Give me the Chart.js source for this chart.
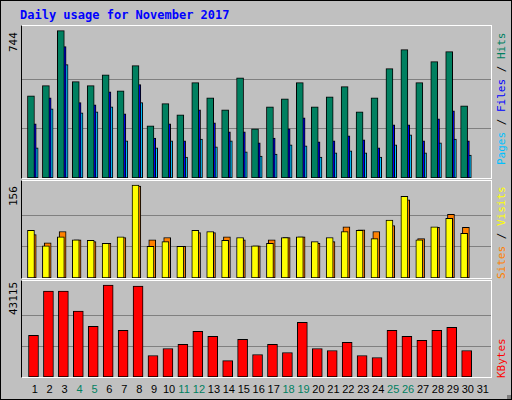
<!DOCTYPE html>
<html><head><meta charset="utf-8">
<script src="https://cdn.jsdelivr.net/npm/chart.js@4"></script>
<style>
body{margin:0;background:#fff;}
#frame{position:absolute;left:0;top:0;width:510px;height:398px;background:#C0C0C0;border:1px solid #000;overflow:hidden;font-family:"DejaVu Sans Mono",monospace;}
.panel{position:absolute;left:20px;width:471px;box-sizing:border-box;border-top:1px solid #fff;border-left:1px solid #000;border-right:1px solid #fff;border-bottom:1px solid #fff;}
.rot{position:absolute;transform-origin:0 0;transform:rotate(-90deg);white-space:nowrap;font-size:11px;}
.xl{position:absolute;top:382px;font-size:11px;font-family:"Liberation Sans",sans-serif;transform:translateX(-50%);}
</style></head><body>
<div id="frame">
<div style="position:absolute;left:19px;top:7px;color:#0000FF;font-weight:bold;font-size:12px;">Daily usage for November 2017</div>
<div class="panel" style="top:24px;height:154px;"><canvas id="c1"></canvas></div>
<div class="panel" style="top:179px;height:99px;"><canvas id="c2"></canvas></div>
<div class="panel" style="top:279px;height:98px;"><canvas id="c3"></canvas></div>
<div class="rot" style="left:6px;top:51px;">744</div>
<div class="rot" style="left:6px;top:205px;">156</div>
<div class="rot" style="left:6px;top:314px;">43115</div>
<div class="rot" style="left:494px;top:164px;"><span style="color:#00C0FF">Pages</span> / <span style="color:#0000FF">Files</span> / <span style="color:#008060">Hits</span></div>
<div class="rot" style="left:494px;top:278px;"><span style="color:#FF8000">Sites</span> / <span style="color:#FFFF00">Visits</span></div>
<div class="rot" style="left:494px;top:377px;"><span style="color:#FF0000">KBytes</span></div>
<div id="xlabels"></div>
<div style="position:absolute;right:0;bottom:0;width:4px;height:4px;background:#808080"></div>
</div>
<script>
const days = Array.from({length:31},(_,i)=>i+1);
const weekend = [4,5,11,12,18,19,25,26];
const hits  = [415,466,744,486,466,521,440,567,263,375,319,481,405,344,506,248,359,400,481,359,410,461,334,405,552,648,481,587,638,364];
const files = [273,405,663,380,369,435,324,471,202,273,187,344,278,233,233,177,202,248,304,182,187,213,192,152,268,268,187,299,339,187];
const pages = [152,349,572,329,334,359,187,380,152,187,106,197,157,187,132,111,121,167,162,106,127,137,127,106,167,218,127,177,197,116];
const visits= [80,54,69,64,63,58,69,156,53,61,53,80,78,63,68,54,58,68,69,61,68,78,80,66,97,137,64,86,100,75];
const sites = [73,59,78,64,61,58,68,154,64,68,53,76,76,69,64,54,64,68,69,58,61,86,81,78,88,131,66,85,107,85];
const kbytes= [19518,40294,40294,30850,23767,43115,21879,42655,10074,13379,15268,21406,19045,7713,17629,10546,15268,11490,25656,13379,12435,16212,10074,9129,21879,19045,17157,21879,23295,12435];
const maxHits=744, maxVisits=156, maxKB=43115;

function ds(vals, off, color, w){
  return {data: vals.map((v,i)=>({x:days[i]+off,y:v})), backgroundColor:color, borderColor:'#000', borderWidth:1, barThickness:w, borderSkipped:false, grouped:false};
}
function mk(id, sets, max, topFrac){
  return new Chart(document.getElementById(id), {
    type:'bar',
    data:{datasets:sets},
    options:{responsive:true,maintainAspectRatio:false,animation:false,
      layout:{padding:0},
      plugins:{legend:{display:false},tooltip:{enabled:false}},
      scales:{
        x:{type:'linear',min:0.4,max:31.8,offset:false,display:false},
        y:{min:0,max:max*topFrac,display:true,ticks:{display:false},border:{display:false},
           grid:{color:'#808080',drawTicks:false,lineWidth:1},
           afterBuildTicks:(a)=>{a.ticks=[{value:max/3},{value:2*max/3}];}}
      }}
  });
}
mk('c1',[ds(hits,0,'#008060',7),ds(files,0.12,'#0000FF',7),ds(pages,0.25,'#00C0FF',7)],maxHits,1.031);
mk('c2',[ds(visits,0,'#FFFF00',7),ds(sites,0.12,'#FF8000',7)],maxVisits,1.043);
const c3=mk('c3',[ds(kbytes,0.17,'#FF0000',10)],maxKB,1.044);
const xl=document.getElementById('xlabels');
days.forEach(d=>{
  const e=document.createElement('div');e.className='xl';
  e.textContent=d;
  e.style.left=(21+c3.scales.x.getPixelForValue(d+0.25))+'px';
  e.style.color=weekend.includes(d)?'#008060':'#000';
  xl.appendChild(e);
});
</script></body></html>
